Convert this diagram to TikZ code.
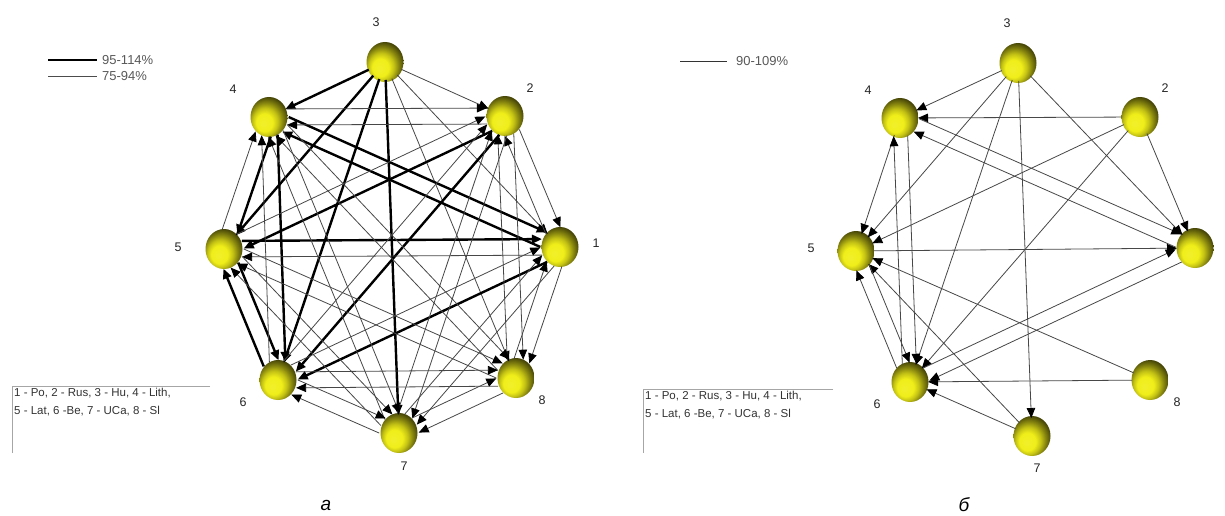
\documentclass[tikz,border=0pt]{standalone}
\usepackage{fontspec}
\setmainfont{Liberation Sans}
\usetikzlibrary{calc,arrows.meta,shapes.geometric}
\definecolor{ylw}{RGB}{240,238,25}
\pgfdeclareradialshading{yball}{\pgfpoint{-8bp}{-9bp}}{color(0bp)=(ylw!92!white); color(11bp)=(ylw); color(17bp)=(ylw!82!black); color(23bp)=(ylw!55!black); color(29bp)=(ylw!30!black); color(50bp)=(black)}
\newcommand\edg[4]{\draw[#1] ($(#2)!#4!90:(#3)$) -- ($(#3)!#4!-90:(#2)$);}
\begin{document}
\begin{tikzpicture}[x=1pt,y=-1pt,
  sph/.style={ellipse, minimum width=37pt, minimum height=40pt, inner sep=0pt, shade, shading=yball},
  lbl/.style={font=\fontsize{12.5}{14}\selectfont, text=black!85},
  thn/.style={draw=black!72, line width=0.8pt, shorten <=18pt, shorten >=18pt, -{Triangle[length=10pt,width=8.5pt,color=black]}},
  thk/.style={thn, draw=black, line width=2.4pt},
  leg/.style={anchor=west, text=black!65, font=\fontsize{13}{15}\selectfont, inner sep=0pt},
  keytxt/.style={anchor=north west, align=left, font=\fontsize{11.5}{18}\selectfont, text=black!80, inner sep=0pt},
  boxln/.style={draw=black!35, line width=0.8pt},
  captxt/.style={font=\itshape\fontsize{19}{22}\selectfont}]
\fill[white] (0,0) rectangle (1225,516);
\useasboundingbox (0,0) rectangle (1225,516);

% ---------- left graph nodes ----------
\node[sph] (L1) at (560,247) {};
\node[sph] (L2) at (505,116) {};
\node[sph] (L3) at (385,62) {};
\node[sph] (L4) at (269,117) {};
\node[sph] (L5) at (224,249) {};
\node[sph] (L6) at (278,380) {};
\node[sph] (L7) at (399,433) {};
\node[sph] (L8) at (516,378) {};
\node[lbl] (la1) at (596,243) {1};
\node[lbl] (la2) at (530,88) {2};
\node[lbl] (la3) at (376,22) {3};
\node[lbl] (la4) at (233,89) {4};
\node[lbl] (la5) at (178,247) {5};
\node[lbl] (la6) at (243,402) {6};
\node[lbl] (la7) at (404,466) {7};
\node[lbl] (la8) at (542,400) {8};

% thin edges from 3
\foreach \b in {1,2,8} \edg{thn}{L3}{L\b}{0pt};
% thick edges from 3
\foreach \b in {4,5,6,7} \edg{thk}{L3}{L\b}{0pt};
% thick bidirectional-offset edges
\foreach \a/\b in {4/5,4/1,1/4,2/5,2/6,1/6,5/1,5/6,6/5,4/6} \edg{thk}{L\a}{L\b}{8pt};
% thin bidirectional-offset edges
\foreach \a/\b in {1/2,2/1,1/5,6/1,1/7,7/1,1/8,8/1,2/4,4/2,5/2,6/2,2/7,7/2,2/8,8/2,
  5/4,6/4,4/7,7/4,4/8,8/4,5/7,7/5,5/8,8/5,6/7,7/6,6/8,8/6,7/8,8/7}
  \edg{thn}{L\a}{L\b}{8pt};

% ---------- right graph nodes ----------
\node[sph] (R1) at (1195,248) {};
\node[sph] (R2) at (1140,117) {};
\node[sph] (R3) at (1018,63) {};
\node[sph] (R4) at (900,118) {};
\node[sph] (R5) at (856,251) {};
\node[sph] (R6) at (910,382) {};
\node[sph] (R7) at (1032,436) {};
\node[sph] (R8) at (1150,380) {};
\node[lbl] (lb2) at (1165,88) {2};
\node[lbl] (lb3) at (1007,23) {3};
\node[lbl] (lb4) at (868,90) {4};
\node[lbl] (lb5) at (811,248) {5};
\node[lbl] (lb6) at (877,404) {6};
\node[lbl] (lb7) at (1037,468) {7};
\node[lbl] (lb8) at (1177,402) {8};

\foreach \a/\b in {3/4,3/5,3/6,3/7,3/1,2/4,2/5,2/6,2/1,4/5,5/1,7/5,7/6,8/5,8/6}
  \edg{thn}{R\a}{R\b}{0pt};
\foreach \a/\b in {4/6,6/4,4/1,1/4,1/6,6/1,5/6,6/5}
  \edg{thn}{R\a}{R\b}{7pt};

% ---------- legends ----------
\draw[line width=2.6pt] (48,60) -- (97,60);
\draw[black!70, line width=0.8pt] (48,76) -- (97,76);
\node[leg] (t1) at (102,60) {95-114\%};
\node[leg] (t2) at (102,76) {75-94\%};
\draw[black!80, line width=0.8pt] (680,61) -- (727,61);
\node[leg] (t3) at (736,61) {90-109\%};

\draw[boxln] (210,386) -- (12,386) -- (12,453);
\node[keytxt] (k1) at (14,388) {1 - Po, 2 - Rus, 3 - Hu, 4 - Lith,\\5 - Lat, 6 -Be, 7 - UCa, 8 - Sl};
\draw[boxln] (833,389) -- (643,389) -- (643,453);
\node[keytxt] (k2) at (645,391) {1 - Po, 2 - Rus, 3 - Hu, 4 - Lith,\\5 - Lat, 6 -Be, 7 - UCa, 8 - Sl};

\node[captxt] (ca) at (326,505) {а};
\node[captxt] (cb) at (964,505) {б};
\end{tikzpicture}
\end{document}
